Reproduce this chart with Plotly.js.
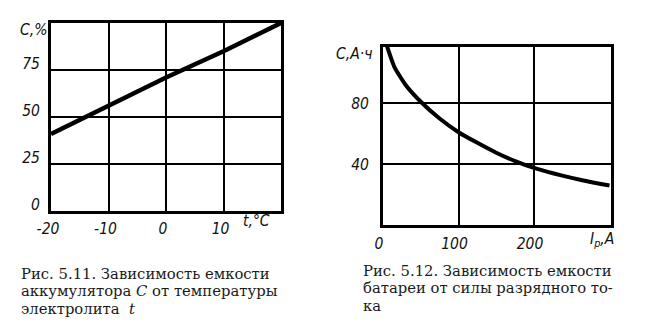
<!DOCTYPE html>
<html><head><meta charset="utf-8">
<script src="https://cdn.plot.ly/plotly-3.0.1.min.js"></script>
<style>html,body{margin:0;padding:0;background:#fff}#c{width:651px;height:325px}</style>
</head><body><div id="c"></div>
<script>
// Fig 5.11: capacity C (%) vs electrolyte temperature t (°C)
const tempC = [-20, -10, 0, 10, 20];
const capPct = [41, 56, 71, 85, 100];
const xTicks1 = [-20, -10, 0, 10];
const yTicks1 = [0, 25, 50, 75];

// Fig 5.12: capacity C (A·h) vs discharge current Ip (A)
const currentA = [5, 15, 30, 50, 75, 100, 125, 150, 175, 200, 225, 250, 275, 300];
const capAh = [118, 104, 92, 81, 70, 61, 54, 47.5, 42, 37.5, 34, 31, 28.3, 26];
const xTicks2 = [0, 100, 200];
const yTicks2 = [40, 80];

// Captions
const caption1 = ['Рис. 5.11. Зависимость емкости', 'аккумулятора <i>C</i> от температуры', 'электролита  <i>t</i>'];
const caption2 = ['Рис. 5.12. Зависимость емкости', 'батареи от силы разрядного то-', 'ка'];

const W = 651, H = 325;
const px = v => v / W, py = v => 1 - v / H;
const tickFont = {family: 'DejaVu Sans Condensed, Liberation Sans Narrow, DejaVu Sans, sans-serif', size: 15.5, color: '#111', style: 'italic'};
const capFont = {family: 'DejaVu Serif, Liberation Serif, serif', size: 14.8, color: '#1a1a1a'};

const axBase = {
  showline: true, mirror: true, linecolor: '#000', linewidth: 3,
  showgrid: true, gridcolor: '#000', gridwidth: 2,
  zeroline: false, ticks: '', tickfont: tickFont, fixedrange: true
};

const data = [
  {x: tempC, y: capPct, xaxis: 'x', yaxis: 'y', mode: 'lines',
   line: {color: '#000', width: 4.5}, hoverinfo: 'skip'},
  {x: currentA, y: capAh, xaxis: 'x2', yaxis: 'y2', mode: 'lines',
   line: {color: '#000', width: 4, shape: 'spline', smoothing: 0.5}, hoverinfo: 'skip'}
];

const ann = (text, x, y, xanchor, font) => ({text, xref: 'paper', yref: 'paper', x: px(x), y: py(y),
  xanchor, yanchor: 'middle', align: 'left', showarrow: false, font});

const annotations = [
  ann('C,%', 18, 30, 'left', tickFont),
  ann('t,°C', 256, 221, 'center', tickFont),
  ann('C,A·ч', 334, 54, 'left', tickFont),
  ann('I<sub>р</sub>,A', 602, 240, 'center', tickFont)
];
const capY1 = [273, 290.5, 308], capY2 = [270, 287.5, 305];
caption1.forEach((t, i) => annotations.push(ann(t, 19, capY1[i], 'left', capFont)));
caption2.forEach((t, i) => annotations.push(ann(t, 361, capY2[i], 'left', capFont)));

const layout = {
  width: W, height: H, margin: {l: 0, r: 0, t: 0, b: 0},
  paper_bgcolor: '#fff', plot_bgcolor: '#fff', showlegend: false,
  xaxis: Object.assign({}, axBase, {domain: [px(51), px(281)], range: [-20, 20],
    tickvals: xTicks1, ticktext: xTicks1.map(String), anchor: 'y', ticklabelstandoff: 1, ticklabelshift: -3}),
  yaxis: Object.assign({}, axBase, {domain: [py(211), py(23)], range: [0, 100],
    tickvals: yTicks1, ticktext: yTicks1.map(String), anchor: 'x', ticklabelstandoff: 5, ticklabelshift: -6}),
  xaxis2: Object.assign({}, axBase, {domain: [px(383), px(611)], range: [0, 302],
    tickvals: xTicks2, ticktext: xTicks2.map(String), anchor: 'y2', ticklabelstandoff: 2, ticklabelshift: -4}),
  yaxis2: Object.assign({}, axBase, {domain: [py(225), py(47)], range: [0, 117],
    tickvals: yTicks2, ticktext: yTicks2.map(String), anchor: 'x2', ticklabelstandoff: 8}),
  annotations
};

Plotly.newPlot('c', data, layout, {staticPlot: true, displayModeBar: false});
</script></body></html>
